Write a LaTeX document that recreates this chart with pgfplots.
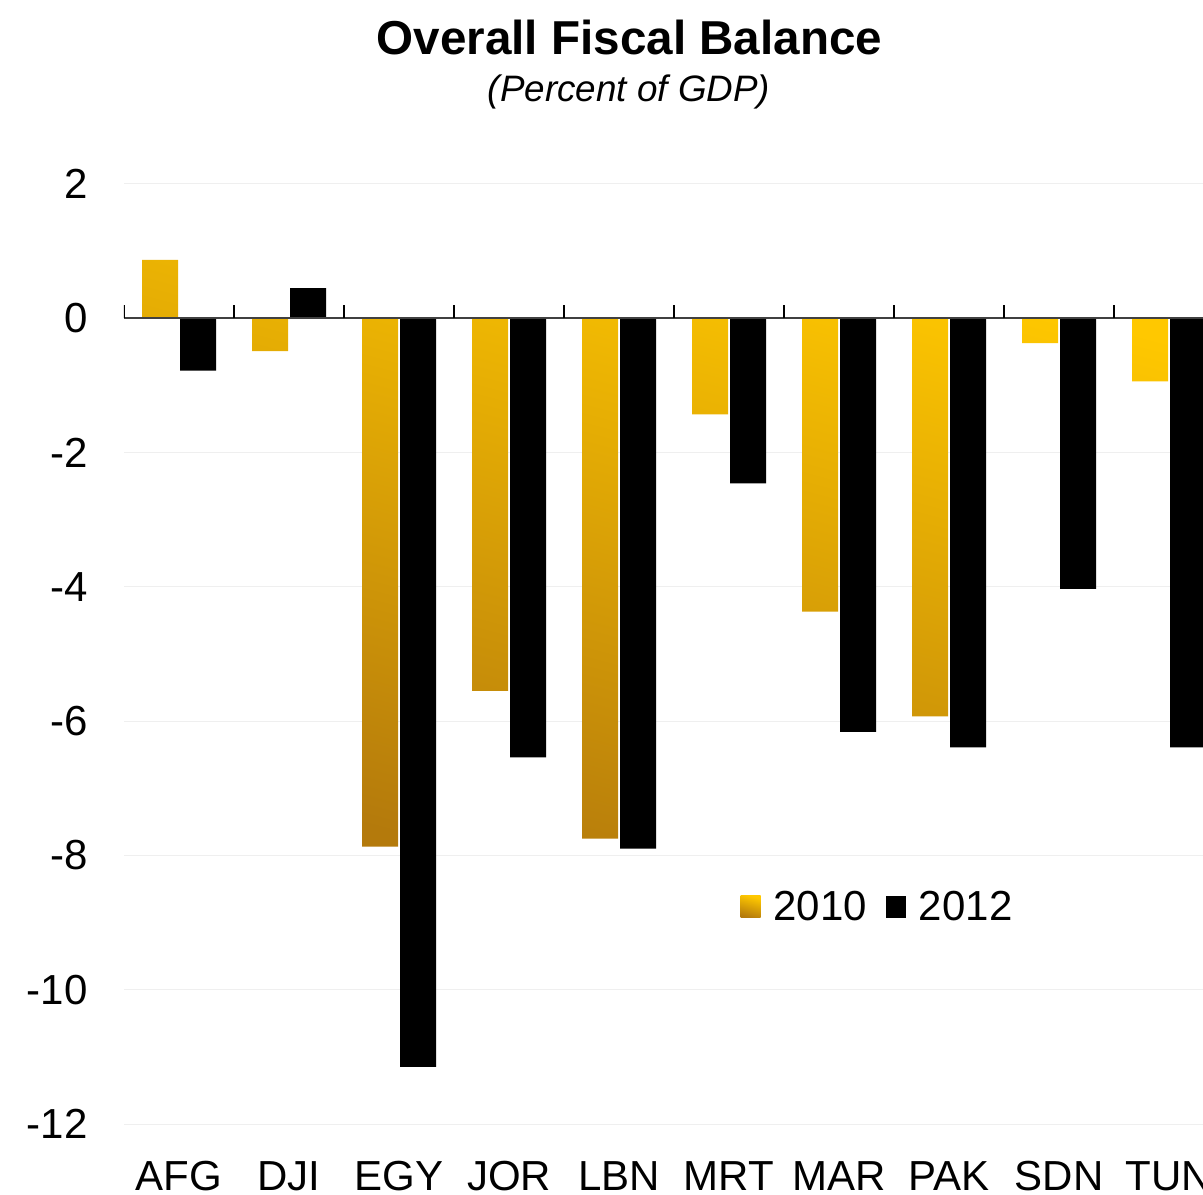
\documentclass[border=0pt]{standalone}
\usepackage{pgfplots}
\pgfplotsset{compat=1.18}
\usepackage{fontspec}
\setmainfont{Liberation Sans}
\definecolor{goldtop}{HTML}{FFC800}
\definecolor{goldbot}{HTML}{B47A0C}
\definecolor{gridc}{HTML}{EFEFEF}
\begin{document}
\begin{tikzpicture}
\begin{axis}[
  at={(62pt,35pt)}, anchor=south west,
  scale only axis, width=539.5pt, height=470pt,
  xmin=-0.5, xmax=9.309, ymin=-12, ymax=2,
  enlargelimits=false,
  axis line style={draw=none},
  xtick={0,...,9},
  xticklabels={AFG,DJI,EGY,JOR,LBN,MRT,MAR,PAK,SDN,TUN},
  ytick={-12,-10,...,2},
  tick style={draw=none},
  ymajorgrids, grid style={gridc, line width=0.5pt},
  /pgf/number format/assume math mode=true,
  tick label style={font=\fontsize{21}{25}\selectfont},
  yticklabel style={anchor=east, inner sep=0pt, xshift=-18pt},
  xticklabel style={anchor=base, inner sep=0pt, yshift=-29pt},
  ybar, bar width=18pt,
  legend columns=2,
  legend style={draw=none, fill=none, inner sep=0pt, at={(0.571,0.231)}, anchor=west,
    font=\fontsize{21}{25}\selectfont,
    nodes={inner sep=0pt},
    /tikz/every odd column/.append style={column sep=6.5pt},
    /tikz/every even column/.append style={column sep=9.5pt}},
  legend image code/.code={\path[#1,/tikz/.cd,draw=none] (0pt,-5.5pt) rectangle (10pt,5.5pt);},
]
\addplot[draw=none, top color=goldtop, bottom color=goldbot, shading angle=-15, bar shift=-9.5pt]
  coordinates {(0,0.87) (1,-0.49) (2,-7.87) (3,-5.55) (4,-7.75) (5,-1.43) (6,-4.37) (7,-5.93) (8,-0.37) (9,-0.94)};
\addlegendentry{2010}
\addplot[draw=none, fill=black, bar shift=9.5pt]
  coordinates {(0,-0.78) (1,0.45) (2,-11.15) (3,-6.54) (4,-7.90) (5,-2.46) (6,-6.16) (7,-6.39) (8,-4.03) (9,-6.39)};
\addlegendentry{2012}
\draw[black!75, line width=1pt] (axis cs:-0.5,0) -- (axis cs:9.309,0);
\pgfplotsinvokeforeach{-0.5,0.5,1.5,2.5,3.5,4.5,5.5,6.5,7.5,8.5}{
  \draw[black, line width=1pt] (axis cs:#1,0) -- ++(0pt,6.5pt);
}
\end{axis}
\node[anchor=base, font=\fontsize{23.8}{28}\selectfont\bfseries] at (314.75pt,569.5pt) {Overall Fiscal Balance};
\node[anchor=base, font=\fontsize{18.4}{22}\selectfont\itshape] at (314.5pt,546pt) {(Percent of GDP)};
\pgfresetboundingbox
\path[use as bounding box] (0,0) rectangle (601.5pt,597pt);
\end{tikzpicture}
\end{document}
